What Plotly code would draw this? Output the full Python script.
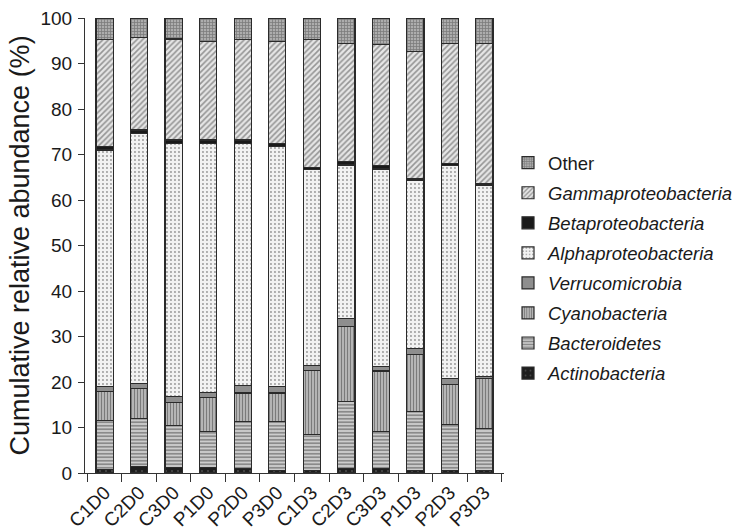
import plotly.graph_objects as go

samples = ["C1D0", "C2D0", "C3D0", "P1D0", "P2D0", "P3D0",
           "C1D3", "C2D3", "C3D3", "P1D3", "P2D3", "P3D3"]

actinobacteria = [0.7, 1.4, 1.2, 1.2, 1.0, 0.5, 0.5, 1.0, 1.0, 0.5, 0.5, 0.5]
bacteroidetes = [10.9, 10.6, 9.2, 7.9, 10.3, 10.8, 8.0, 14.7, 8.1, 13.0, 10.2, 9.2]
cyanobacteria = [6.4, 6.6, 5.1, 7.5, 6.3, 6.3, 14.1, 16.5, 13.3, 12.6, 8.8, 11.0]
verrucomicrobia = [1.1, 1.1, 1.3, 1.1, 1.7, 1.5, 1.0, 1.8, 1.0, 1.3, 1.3, 0.5]
alphaproteobacteria = [51.9, 55.0, 55.7, 54.8, 53.2, 52.6, 43.1, 33.7, 43.4, 36.8, 46.7, 42.1]
betaproteobacteria = [0.7, 0.7, 0.7, 0.7, 0.7, 0.8, 0.5, 0.7, 0.7, 0.4, 0.6, 0.4]
gammaproteobacteria = [23.5, 20.4, 22.2, 21.6, 22.0, 22.3, 28.0, 26.0, 26.7, 28.0, 26.3, 30.7]
other = [4.8, 4.2, 4.6, 5.2, 4.8, 5.2, 4.8, 5.6, 5.8, 7.4, 5.6, 5.6]

y_ticks = [0, 10, 20, 30, 40, 50, 60, 70, 80, 90, 100]

FONT = "Liberation Sans, Arial, Helvetica, sans-serif"
LINE = dict(color="#2a2a2a", width=1.2)

series = [
    ("<i>Actinobacteria</i>", actinobacteria,
     dict(color="#1e1e1e", pattern=dict(shape=".", fgcolor="#777777", bgcolor="#1e1e1e", size=6, solidity=0.1))),
    ("<i>Bacteroidetes</i>", bacteroidetes,
     dict(color="#ffffff", pattern=dict(shape="-", fgcolor="#3a3a3a", bgcolor="#cccccc", size=3.5, solidity=0.45))),
    ("<i>Cyanobacteria</i>", cyanobacteria,
     dict(color="#ffffff", pattern=dict(shape="|", fgcolor="#2e2e2e", bgcolor="#c8c8c8", size=3, solidity=0.5))),
    ("<i>Verrucomicrobia</i>", verrucomicrobia,
     dict(color="#8e8e8e")),
    ("<i>Alphaproteobacteria</i>", alphaproteobacteria,
     dict(color="#ffffff", pattern=dict(shape=".", fgcolor="#3a3a3a", bgcolor="#f2f2f2", size=4, solidity=0.18))),
    ("<i>Betaproteobacteria</i>", betaproteobacteria,
     dict(color="#1a1a1a")),
    ("<i>Gammaproteobacteria</i>", gammaproteobacteria,
     dict(color="#ffffff", pattern=dict(shape="/", fgcolor="#444444", bgcolor="#e6e6e6", size=4, solidity=0.4))),
    ("Other", other,
     dict(color="#999999", pattern=dict(shape="+", fgcolor="#4a4a4a", bgcolor="#adadad", size=3, solidity=0.45))),
]

fig = go.Figure()
n = len(series)
for i, (name, vals, marker) in enumerate(series):
    m = dict(marker)
    m["line"] = LINE
    fig.add_trace(go.Bar(x=samples, y=vals, name=name, marker=m,
                         legendgroup="g%d" % i, legendrank=n - i, width=0.5))

fig.update_layout(
    width=732, height=532,
    barmode="stack",
    bargap=0.5,
    paper_bgcolor="white", plot_bgcolor="white",
    margin=dict(l=85, r=228, t=18, b=59, autoexpand=False),
    font=dict(family=FONT, size=18, color="#1a1a1a"),
    showlegend=True,
    legend=dict(xref="container", yref="container",
                x=0.694, xanchor="left", y=0.729, yanchor="top",
                traceorder="grouped", tracegroupgap=3,
                font=dict(family=FONT, size=18.5, color="#1a1a1a"),
                bgcolor="rgba(0,0,0,0)"),
)

fig.update_xaxes(
    type="category", range=[-0.57, 11.57], automargin=False,
    showline=True, linecolor="#333333", linewidth=1,
    ticks="outside", tickson="boundaries", ticklen=8, tickcolor="#333333",
    tickangle=-45, tickfont=dict(size=19),
    showgrid=False, zeroline=False,
)
fig.update_yaxes(
    range=[0, 100], tickvals=y_ticks, automargin=False,
    showline=True, linecolor="#333333", linewidth=1,
    ticks="outside", ticklen=6, tickcolor="#333333",
    tickfont=dict(size=19), ticklabelstandoff=2,
    showgrid=False, zeroline=False,
    title=dict(text="Cumulative relative abundance (%)", font=dict(size=27), standoff=3),
)

fig.write_html("out.html",
               config={"displayModeBar": False},
               post_script="document.body.style.margin='0';document.body.style.overflow='hidden';")
